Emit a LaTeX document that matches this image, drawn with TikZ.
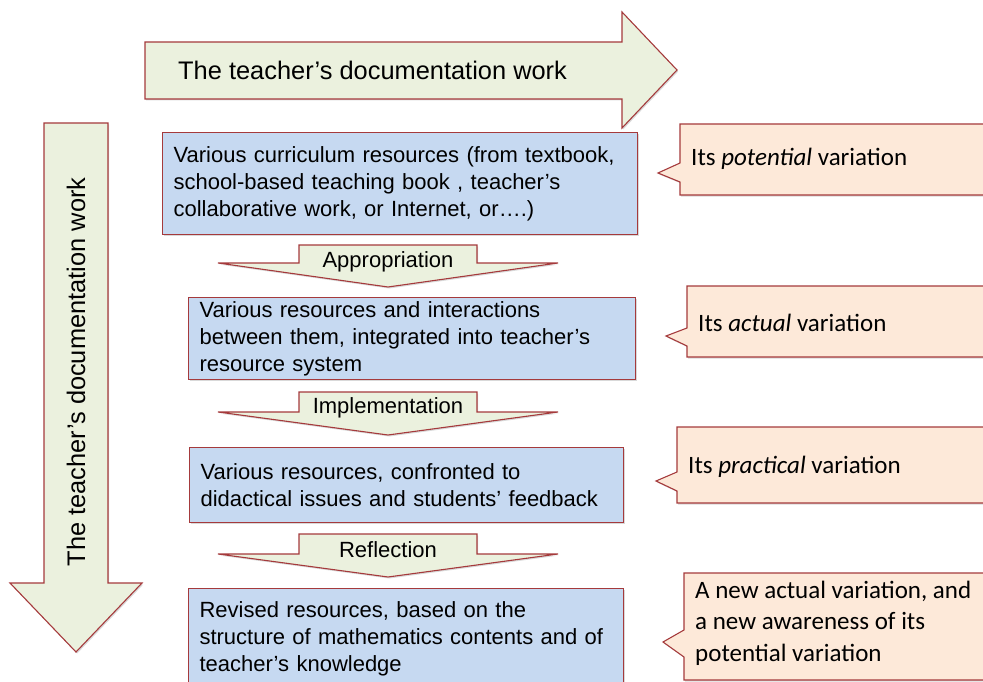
\documentclass[tikz,border=0pt]{standalone}
\usepackage{fontspec}
\setmainfont{Liberation Sans}
\newfontfamily\notefont{Carlito}
\usetikzlibrary{positioning, shadows}

\definecolor{darkred}{HTML}{A53A3C}
\definecolor{arrowfill}{HTML}{EBF1DE}
\definecolor{boxblue}{HTML}{C6D9F1}
\definecolor{notepink}{HTML}{FDE9D9}

\begin{document}
\begin{tikzpicture}[x=1pt, y=-1pt]
	% Styles
	\tikzstyle{shade} = [drop shadow={shadow xshift=1.2pt, shadow yshift=-1.5pt, opacity=0.15, fill=black}]
	\tikzstyle{bigarrow} = [draw=darkred, fill=arrowfill, line width=1.1pt, line join=miter, shade]
	\tikzstyle{resbox} = [draw=darkred, fill=boxblue, rectangle, line width=1.1pt, anchor=north west, inner xsep=11pt, inner ysep=0pt, align=left, font=\fontsize{22}{27}\selectfont, shade]
	\tikzstyle{note} = [draw=darkred, fill=notepink, line width=1.1pt, line join=miter, shade]
	\tikzstyle{notetext} = [anchor=west, align=left, inner sep=0pt, font=\notefont\fontsize{25}{31.5}\selectfont]
	\tikzstyle{steplabel} = [inner sep=0pt, font=\fontsize{22}{26}\selectfont]
	\tikzstyle{biglabel} = [inner sep=0pt, font=\fontsize{25.4}{30}\selectfont]

	\useasboundingbox (0,0) rectangle (983,682);

	% Big arrows
	\draw [bigarrow] (145,42) -- (622,42) -- (622,12) -- (677,70) -- (622,128) -- (622,99) -- (145,99) -- cycle;
	\node (toplabel) [biglabel, anchor=west] at (178,70) {The teacher’s documentation work};
	\draw [bigarrow] (44,123) -- (108,123) -- (108,583) -- (142,583) -- (76,652) -- (10,583) -- (44,583) -- cycle;
	\node (sidelabel) [biglabel, rotate=90] at (76,372) {The teacher’s documentation work};

	% Resource boxes
	\node (curric) [resbox, minimum width=475, minimum height=102, text width=453] at (162,132) {Various curriculum resources (from textbook,\\ school-based teaching book , teacher’s\\ collaborative work, or Internet, or….)};
	\node (system) [resbox, minimum width=447, minimum height=82, text width=425] at (188,297) {Various resources and interactions\\ between them, integrated into teacher’s\\ resource system};
	\node (feedback) [resbox, minimum width=434, minimum height=75, text width=412] at (189,447) {Various resources, confronted to\\ didactical issues and students’ feedback};
	\node (revised) [resbox, minimum width=435, minimum height=100, text width=413] at (188,588) {Revised resources, based on the\\ structure of mathematics contents and of\\ teacher’s knowledge};

	% Step arrows
	\draw [bigarrow] (299,245) -- (477,245) -- (477,263) -- (558,263) -- (388,287) -- (218,263) -- (299,263) -- cycle;
	\node (appr) [steplabel] at (388,262) {Appropriation};
	\draw [bigarrow] (299,392) -- (477,392) -- (477,412) -- (558,412) -- (388,435) -- (218,412) -- (299,412) -- cycle;
	\node (impl) [steplabel] at (388,408) {Implementation};
	\draw [bigarrow] (299,534) -- (477,534) -- (477,554) -- (558,554) -- (388,577) -- (218,554) -- (299,554) -- cycle;
	\node (refl) [steplabel] at (388,550) {Reflection};

	% Callouts
	\draw [note] (1000,124) -| (680,163) -- (658,173) -- (680,182) |- (1000,195) -- cycle;
	\node (potential) [notetext] at (691,159) {Its \textit{potential} variation};
	\draw [note] (1000,286) -| (687,328) -- (666,336) -- (687,346) |- (1000,357) -- cycle;
	\node (actual) [notetext] at (698,323) {Its \textit{actual} variation};
	\draw [note] (1000,427) -| (677,472) -- (656,481) -- (677,491) |- (1000,503) -- cycle;
	\node (practical) [notetext] at (688,467) {Its \textit{practical} variation};
	\draw [note] (1000,573) -| (684,630) -- (663,642) -- (684,657) |- (1000,680) -- cycle;
	\node (awareness) [notetext] at (695,623) {A new actual variation, and\\ a new awareness of its\\ potential variation};
\end{tikzpicture}
\end{document}
